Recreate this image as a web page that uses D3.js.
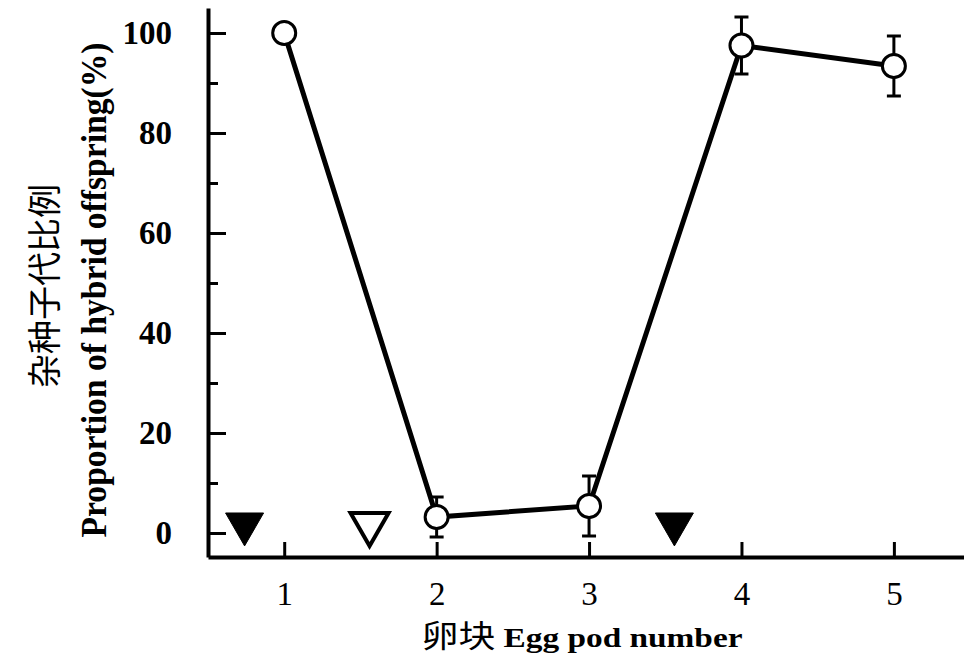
<!DOCTYPE html>
<html>
<head>
<meta charset="utf-8">
<script src="https://cdn.jsdelivr.net/npm/d3@7"></script>
<style>
  body { margin: 0; background: #fff; }
  svg { display: block; }
</style>
</head>
<body>
<svg id="chart" width="964" height="669"></svg>
<script>
// data
var podNumbers = [1, 2, 3, 4, 5];
var hybridPct = [100, 3.2, 5.4, 97.5, 93.4];
var hybridErr = [0, 4, 6, 5.7, 6];
var markerPods = [0.74, 1.56, 3.56];
var markerFilled = [true, false, true];
var markerLevel = 4;
var yMajorTicks = [0, 20, 40, 60, 80, 100];
var yMinorTicks = [10, 30, 50, 70, 90];

var width = 964, height = 669;
var svg = d3.select("#chart");

var x = d3.scaleLinear().domain([0.5, 5.46]).range([208, 964]);
var y = d3.scaleLinear().domain([-4.8, 105]).range([557, 8]);

var serif = "'Liberation Serif', 'DejaVu Serif', serif";
var cjk = "'Noto Sans CJK SC', sans-serif";

// y axis
var yAxis = svg.append("g")
    .attr("transform", "translate(" + x(0.5) + ",0)")
    .call(d3.axisLeft(y).tickValues(yMajorTicks).tickSizeInner(-18).tickSizeOuter(0).tickPadding(36));
yAxis.select(".domain").attr("stroke-width", 4);
yAxis.selectAll(".tick line").attr("stroke-width", 3);
yAxis.selectAll(".tick text")
    .style("font-family", serif)
    .style("font-size", "33px")
    .style("font-weight", "bold")
    .attr("fill", "#000");

var yMinor = svg.append("g")
    .attr("transform", "translate(" + x(0.5) + ",0)")
    .call(d3.axisLeft(y).tickValues(yMinorTicks).tickSize(-10).tickFormat(""));
yMinor.select(".domain").remove();
yMinor.selectAll(".tick line").attr("stroke-width", 3);

// x axis
var xAxis = svg.append("g")
    .attr("transform", "translate(0," + y(-4.8) + ")")
    .call(d3.axisBottom(x).tickValues(podNumbers).tickFormat(d3.format("d")).tickSizeInner(-15).tickSizeOuter(0).tickPadding(25));
xAxis.select(".domain").attr("stroke-width", 4);
xAxis.selectAll(".tick line").attr("stroke-width", 3);
xAxis.selectAll(".tick text")
    .style("font-family", serif)
    .style("font-size", "33px")
    .attr("fill", "#000");

// axis titles
svg.append("text")
    .attr("x", 582)
    .attr("y", 647)
    .attr("text-anchor", "middle")
    .attr("textLength", 321)
    .attr("lengthAdjust", "spacingAndGlyphs")
    .style("font-size", "28px")
    .call(function(t) {
        t.append("tspan").style("font-family", cjk).style("font-size", "31px").text("卵块 ");
        t.append("tspan").style("font-family", serif).style("font-weight", "bold").text("Egg pod number");
    });

svg.append("text")
    .attr("transform", "translate(57,286) rotate(-90)")
    .attr("text-anchor", "middle")
    .style("font-family", cjk)
    .style("font-size", "34px")
    .text("杂种子代比例");

svg.append("text")
    .attr("transform", "translate(106,290) rotate(-90)")
    .attr("text-anchor", "middle")
    .attr("textLength", 495)
    .attr("lengthAdjust", "spacingAndGlyphs")
    .style("font-family", serif)
    .style("font-size", "36px")
    .style("font-weight", "bold")
    .text("Proportion of hybrid offspring(%)");

// triangle markers (pointing down, top edge at markerLevel)
var triSide = 38;
var triH = triSide * Math.sqrt(3) / 2;
var tri = d3.symbol().type(d3.symbolTriangle).size(triSide * triSide * Math.sqrt(3) / 4);
svg.append("g")
    .selectAll("path")
    .data(markerPods)
    .join("path")
    .attr("d", tri)
    .attr("transform", d => "translate(" + x(d) + "," + (y(markerLevel) + triH / 3) + ") rotate(180)")
    .attr("fill", (d, i) => markerFilled[i] ? "#000" : "#fff")
    .attr("stroke", "#000")
    .attr("stroke-width", (d, i) => markerFilled[i] ? 1 : 4)
    .attr("stroke-linejoin", "miter");

var pts = podNumbers.map((p, i) => ({ p: p, v: hybridPct[i], e: hybridErr[i] }));

// error bars
var eb = svg.append("g").attr("stroke", "#000").attr("stroke-width", 3);
pts.filter(d => d.e > 0).forEach(function(d) {
    eb.append("line")
        .attr("x1", x(d.p)).attr("x2", x(d.p))
        .attr("y1", y(d.v - d.e)).attr("y2", y(d.v + d.e));
    [d.v - d.e, d.v + d.e].forEach(function(c) {
        eb.append("line")
            .attr("x1", x(d.p) - 7).attr("x2", x(d.p) + 7)
            .attr("y1", y(c)).attr("y2", y(c));
    });
});

// line
svg.append("path")
    .datum(pts)
    .attr("fill", "none")
    .attr("stroke", "#000")
    .attr("stroke-width", 5)
    .attr("d", d3.line().x(d => x(d.p)).y(d => y(d.v)));

// circles
svg.append("g")
    .selectAll("circle")
    .data(pts)
    .join("circle")
    .attr("cx", d => x(d.p))
    .attr("cy", d => y(d.v))
    .attr("r", 11.5)
    .attr("fill", "#fff")
    .attr("stroke", "#000")
    .attr("stroke-width", 3);
</script>
</body>
</html>
